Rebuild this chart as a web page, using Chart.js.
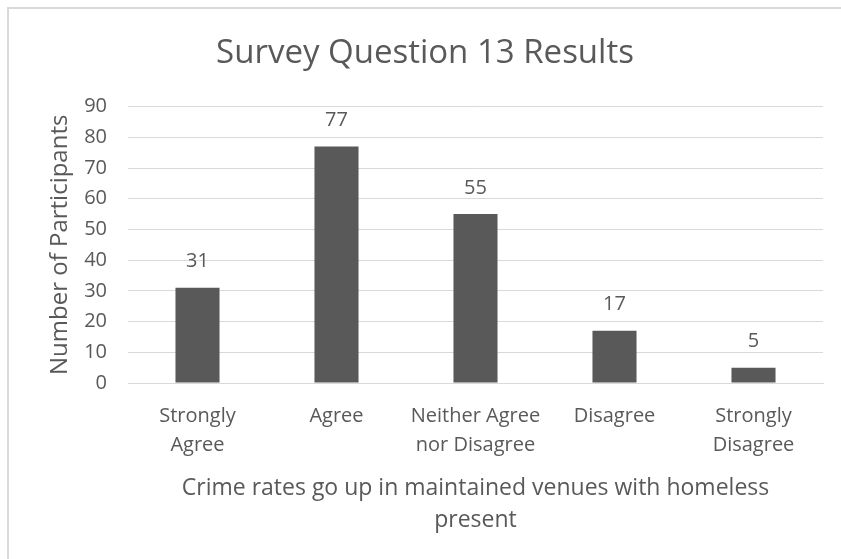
<!DOCTYPE html>
<html>
<head>
<meta charset="utf-8">
<script src="https://cdn.jsdelivr.net/npm/chart.js@4/dist/chart.umd.min.js"></script>
<style>
  html, body { margin: 0; padding: 0; background: #ffffff; }
  #wrap { position: relative; width: 841px; height: 559px; }
</style>
</head>
<body>
<div id="wrap"><canvas id="chart" width="841" height="559"></canvas></div>
<script>
// Survey responses
const categories = [
  ['Strongly', 'Agree'],
  'Agree',
  ['Neither Agree', 'nor Disagree'],
  'Disagree',
  ['Strongly', 'Disagree']
];
const participants = [31, 77, 55, 17, 5];
const yTicks = [0, 10, 20, 30, 40, 50, 60, 70, 80, 90];

const chartTitle = 'Survey Question 13 Results';
const xTitle = ['Crime rates go up in maintained venues with homeless', 'present'];
const yTitle = 'Number of Participants';

const TEXT = '#595959';
const GRID = '#d9d9d9';
const FONT = '"Open Sans", sans-serif';

// Thin frame along the top and left edges of the chart box
const framePlugin = {
  id: 'frame',
  beforeDraw(chart) {
    const ctx = chart.ctx;
    ctx.save();
    ctx.strokeStyle = '#d9d9d9';
    ctx.lineWidth = 2;
    ctx.beginPath();
    ctx.moveTo(8, chart.height);
    ctx.lineTo(8, 8);
    ctx.lineTo(chart.width, 8);
    ctx.stroke();
    ctx.restore();
  }
};

// Value labels above each bar
const valueLabels = {
  id: 'valueLabels',
  afterDatasetsDraw(chart) {
    const ctx = chart.ctx;
    const meta = chart.getDatasetMeta(0);
    const data = chart.data.datasets[0].data;
    ctx.save();
    ctx.fillStyle = TEXT;
    ctx.font = '20px ' + FONT;
    ctx.textAlign = 'center';
    ctx.textBaseline = 'middle';
    meta.data.forEach((bar, i) => {
      ctx.fillText(String(data[i]), bar.x, bar.y - 26);
    });
    ctx.restore();
  }
};

new Chart(document.getElementById('chart'), {
  type: 'bar',
  data: {
    labels: categories,
    datasets: [{
      data: participants,
      backgroundColor: '#595959',
      borderWidth: 0,
      categoryPercentage: 1.0,
      barPercentage: 0.317
    }]
  },
  options: {
    responsive: false,
    animation: false,
    events: [],
    layout: { padding: { left: 27, right: 18, top: 0, bottom: 23 } },
    plugins: {
      legend: { display: false },
      tooltip: { enabled: false },
      title: {
        display: true,
        text: chartTitle,
        color: TEXT,
        font: { family: FONT, size: 33, weight: 'normal', lineHeight: 1.2 },
        padding: { top: 34, bottom: 33 }
      }
    },
    scales: {
      x: {
        grid: { display: false, drawTicks: false },
        border: { display: true, color: GRID, width: 1 },
        ticks: {
          color: TEXT,
          font: { family: FONT, size: 20, lineHeight: '29px' },
          padding: 19,
          maxRotation: 0,
          autoSkip: false
        },
        title: {
          display: true,
          text: xTitle,
          color: TEXT,
          font: { family: FONT, size: 23, lineHeight: '32px' },
          padding: { top: 0, bottom: 0 }
        },
        afterFit(scale) { scale.height = 153; }
      },
      y: {
        min: 0,
        max: 90,
        afterBuildTicks(scale) { scale.ticks = yTicks.map(v => ({ value: v })); },
        grid: { color: GRID, lineWidth: 1, drawTicks: false },
        border: { display: false },
        ticks: {
          color: TEXT,
          font: { family: FONT, size: 20 },
          padding: 21
        },
        title: {
          display: true,
          text: yTitle,
          color: TEXT,
          font: { family: FONT, size: 24, lineHeight: 1.2 },
          padding: { top: 19, bottom: 0 }
        },
        afterFit(scale) { scale.width = 101; }
      }
    }
  },
  plugins: [framePlugin, valueLabels]
});
</script>
</body>
</html>
